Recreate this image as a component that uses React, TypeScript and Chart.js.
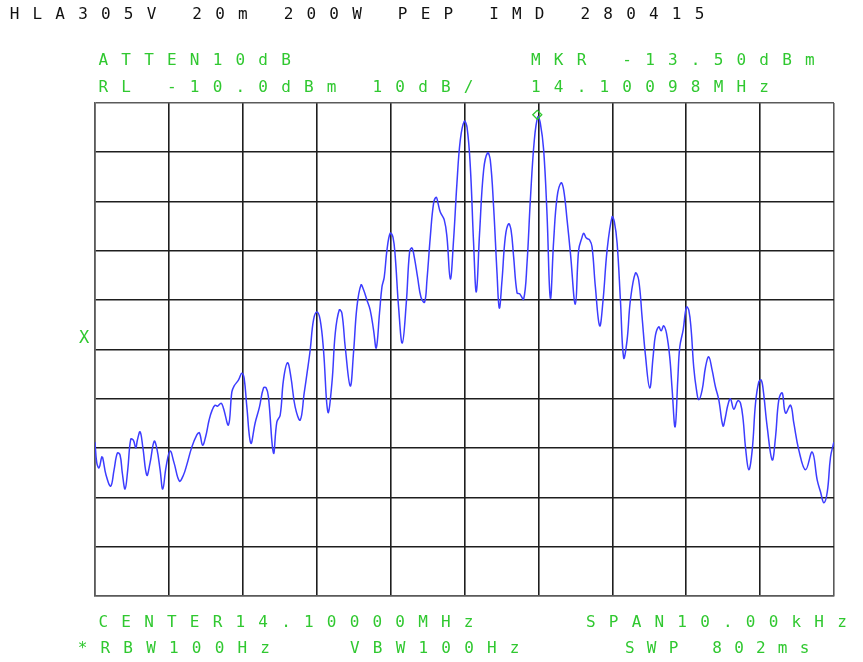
import React, { useEffect, useRef } from "react";
import { Chart, registerables } from "chart.js";

Chart.register(...registerables);

// Frequency offset from centre (kHz), 1 kHz/div, span 10 kHz
const freqKHz = [
  -5.000, -4.976, -4.945, -4.909, -4.895, -4.850, -4.787, -4.742, -4.697, -4.661,
  -4.630, -4.593, -4.557, -4.516, -4.481, -4.448, -4.427, -4.390, -4.353, -4.299,
  -4.255, -4.200, -4.164, -4.119, -4.083, -4.038, -3.984, -3.930, -3.858, -3.804,
  -3.758, -3.690, -3.622, -3.587, -3.544, -3.503, -3.456, -3.415, -3.374, -3.343,
  -3.293, -3.262, -3.194, -3.148, -3.117, -3.059, -3.013, -2.982, -2.945, -2.891,
  -2.833, -2.775, -2.720, -2.684, -2.653, -2.585, -2.539, -2.494, -2.450, -2.395,
  -2.349, -2.291, -2.223, -2.169, -2.125, -2.088, -2.043, -1.997, -1.953, -1.908,
  -1.848, -1.794, -1.749, -1.695, -1.659, -1.614, -1.546, -1.502, -1.456, -1.401,
  -1.366, -1.320, -1.276, -1.231, -1.194, -1.150, -1.117, -1.086, -1.049, -1.005,
  -0.968, -0.937, -0.892, -0.842, -0.788, -0.743, -0.711, -0.680, -0.635, -0.589,
  -0.540, -0.508, -0.463, -0.418, -0.382, -0.359, -0.328, -0.274, -0.237, -0.192,
  -0.148, -0.102, -0.057, -0.003, 0.034, 0.079, 0.123, 0.160, 0.204, 0.259,
  0.313, 0.349, 0.394, 0.440, 0.471, 0.508, 0.552, 0.597, 0.630, 0.665,
  0.711, 0.746, 0.800, 0.846, 0.891, 0.945, 0.993, 1.026, 1.071, 1.117,
  1.162, 1.207, 1.253, 1.307, 1.342, 1.388, 1.433, 1.500, 1.545, 1.591,
  1.613, 1.649, 1.694, 1.726, 1.771, 1.829, 1.875, 1.930, 1.997, 2.028,
  2.065, 2.110, 2.154, 2.200, 2.245, 2.313, 2.357, 2.404, 2.448, 2.506,
  2.552, 2.584, 2.628, 2.661, 2.696, 2.733, 2.777, 2.810, 2.850, 2.886,
  2.913, 2.959, 3.003, 3.035, 3.067, 3.102, 3.139, 3.170, 3.216, 3.261,
  3.305, 3.351, 3.396, 3.441, 3.498, 3.531, 3.563, 3.599, 3.644, 3.698,
  3.735, 3.771, 3.802, 3.847, 3.893, 3.938, 3.982, 4.015, 4.042, 4.096,
  4.164, 4.209, 4.253, 4.299, 4.344, 4.412, 4.456, 4.524, 4.615, 4.705,
  4.773, 4.818, 4.863, 4.909, 4.953, 4.998,
];

// Trace level (dBm), RL -10 dBm, 10 dB/div
const levelDbm = [
  -78.8, -83.0, -84.0, -81.8, -82.0, -85.5, -87.7, -84.4, -81.0, -81.4,
  -85.1, -88.3, -84.4, -78.2, -78.4, -80.0, -78.4, -76.7, -79.8, -85.5,
  -83.0, -78.6, -80.0, -84.4, -88.3, -83.8, -80.6, -83.0, -86.7, -85.5,
  -83.4, -79.8, -77.3, -76.9, -79.4, -77.7, -74.3, -72.3, -71.3, -71.5,
  -70.9, -71.9, -75.3, -68.6, -67.4, -66.2, -64.8, -65.8, -71.7, -79.0,
  -74.9, -71.7, -67.8, -67.8, -69.6, -81.0, -74.7, -73.3, -66.2, -62.7,
  -65.6, -71.7, -74.3, -68.8, -64.2, -60.1, -54.0, -52.4, -54.0, -60.1,
  -72.7, -66.8, -56.7, -52.0, -52.6, -59.5, -67.4, -60.7, -51.4, -46.9,
  -47.9, -50.0, -52.0, -56.0, -59.7, -52.6, -47.3, -45.3, -39.8, -36.4,
  -37.2, -41.2, -51.4, -58.7, -50.6, -40.2, -39.4, -41.2, -45.3, -49.4,
  -50.4, -45.9, -37.2, -30.3, -29.1, -30.3, -32.1, -33.7, -37.2, -45.7,
  -37.8, -26.2, -17.5, -13.7, -14.9, -23.0, -38.4, -48.3, -36.4, -23.6,
  -20.1, -21.6, -31.1, -44.5, -51.6, -45.9, -37.2, -34.5, -35.8, -41.2,
  -48.5, -48.7, -49.8, -42.5, -29.7, -17.5, -12.8, -14.1, -19.5, -32.7,
  -49.6, -37.8, -29.1, -26.2, -27.6, -33.7, -40.4, -50.8, -39.8, -37.2,
  -36.4, -37.4, -37.8, -39.2, -47.3, -55.2, -50.0, -39.8, -33.1, -34.1,
  -38.4, -50.0, -61.7, -58.1, -50.0, -44.5, -45.9, -53.6, -61.1, -67.8,
  -61.5, -57.1, -55.4, -56.2, -55.2, -56.7, -61.5, -68.2, -75.7, -66.2,
  -59.5, -56.0, -51.4, -52.0, -56.0, -63.6, -68.2, -70.2, -68.2, -63.6,
  -61.5, -64.2, -67.6, -70.2, -75.5, -73.7, -71.3, -70.0, -72.1, -70.4,
  -70.9, -74.3, -79.8, -84.4, -80.4, -70.9, -66.6, -66.2, -68.2, -75.7,
  -82.4, -77.7, -70.2, -68.8, -72.9, -71.3, -74.9, -80.4, -84.4, -80.8,
  -86.5, -88.9, -91.1, -88.9, -81.8, -78.8,
];

const markerFreqKHz = [0.985];
const markerLevelDbm = [-12.4];

const spanKHz = [-5, 5];
const levelRangeDbm = [-110, -10];

const titleText = "HLA305V 20m 200W PEP IMD 280415";
const headerLeft = ["ATTEN10dB", "RL -10.0dBm 10dB/"];
const headerRight = ["MKR -13.50dBm", "14.10098MHz"];
const footerTop = ["CENTER14.10000MHz", "SPAN10.00kHz"];
const footerBottom = ["*RBW100Hz", "VBW100Hz", "SWP 802ms"];
const refMarkText = "X";

const GREEN = "#30c830";
const FONT = '"DejaVu Sans Mono", "Liberation Mono", monospace';

const Txt = ({ text, left, top, color, size = 16, spacing = 13.2 }: any) => (
  <div
    style={{
      position: "absolute",
      left,
      top,
      fontFamily: FONT,
      fontSize: size,
      lineHeight: "16px",
      letterSpacing: spacing,
      whiteSpace: "pre",
      color,
    }}
  >
    {text}
  </div>
);

export default function App() {
  const canvasRef = useRef<HTMLCanvasElement | null>(null);

  useEffect(() => {
    const canvas = canvasRef.current;
    if (!canvas) return;
    const trace = freqKHz.map((f, i) => ({ x: f, y: levelDbm[i] }));
    const marker = markerFreqKHz.map((f, i) => ({ x: f, y: markerLevelDbm[i] }));
    const edge = "#5a5a5a";
    const inner = "#1e1e1e";
    const chart = new Chart(canvas, {
      type: "line",
      data: {
        datasets: [
          {
            data: marker,
            showLine: false,
            pointStyle: "rectRot",
            pointRadius: 4.5,
            pointBorderWidth: 1.3,
            pointBorderColor: GREEN,
            pointBackgroundColor: "rgba(0,0,0,0)",
            borderColor: GREEN,
          },
          {
            data: trace,
            borderColor: "#3c3cff",
            borderWidth: 1.5,
            pointRadius: 0,
            fill: false,
            tension: 0.4,
          },
        ],
      },
      options: {
        animation: false,
        responsive: false,
        maintainAspectRatio: false,
        layout: { padding: { left: 95, top: 103, right: 29, bottom: 66 } },
        plugins: { legend: { display: false }, tooltip: { enabled: false } },
        scales: {
          x: {
            type: "linear",
            min: spanKHz[0],
            max: spanKHz[1],
            ticks: { display: false, stepSize: 1 },
            grid: {
              drawTicks: false,
              lineWidth: 1.6,
              color: (c: any) =>
                c.tick && (c.tick.value === spanKHz[0] || c.tick.value === spanKHz[1]) ? edge : inner,
            },
            border: { display: true, color: edge, width: 1.6 },
          },
          y: {
            type: "linear",
            min: levelRangeDbm[0],
            max: levelRangeDbm[1],
            ticks: { display: false, stepSize: 10 },
            grid: {
              drawTicks: false,
              lineWidth: 1.6,
              color: (c: any) =>
                c.tick && (c.tick.value === levelRangeDbm[0] || c.tick.value === levelRangeDbm[1]) ? edge : inner,
            },
            border: { display: true, color: edge, width: 1.6 },
          },
        },
      },
    });
    return () => chart.destroy();
  }, []);

  return (
    <div
      style={{
        position: "fixed",
        left: 0,
        top: 0,
        width: 863,
        height: 662,
        background: "#fff",
        overflow: "hidden",
      }}
    >
      <canvas
        ref={canvasRef}
        width={863}
        height={662}
        style={{ position: "absolute", left: 0, top: 0, width: 863, height: 662 }}
      />
      <Txt text={titleText} left={9.7} top={5.7} color="#111" />
      <Txt text={headerLeft[0]} left={98.5} top={52.4} color={GREEN} />
      <Txt text={headerRight[0]} left={531} top={52.4} color={GREEN} />
      <Txt text={headerLeft[1]} left={98.5} top={78.7} color={GREEN} />
      <Txt text={headerRight[1]} left={531} top={78.7} color={GREEN} />
      <Txt text={footerTop[0]} left={98.5} top={614.4} color={GREEN} />
      <Txt text={footerTop[1]} left={586} top={614.4} color={GREEN} />
      <Txt text={footerBottom[0]} left={77.7} top={640} color={GREEN} />
      <Txt text={footerBottom[1]} left={350} top={640} color={GREEN} />
      <Txt text={footerBottom[2]} left={625} top={640} color={GREEN} spacing={12.2} />
      <Txt text={refMarkText} left={79} top={329} color={GREEN} size={17} spacing={0} />
    </div>
  );
}
